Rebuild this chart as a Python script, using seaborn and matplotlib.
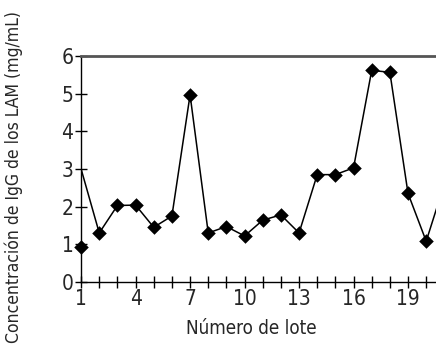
import matplotlib
matplotlib.use("Agg")
import matplotlib.pyplot as plt
import seaborn as sns
import pandas as pd
from matplotlib.ticker import FixedLocator

# Data
lote = [1, 2, 3, 4, 5, 6, 7, 8, 9, 10, 11, 12, 13, 14, 15, 16, 17, 18, 19, 20, 21]
conc = [0.92, 1.30, 2.03, 2.04, 1.45, 1.75, 4.97, 1.30, 1.47, 1.22, 1.64, 1.78, 1.30,
        2.85, 2.85, 3.03, 5.62, 5.57, 2.35, 1.08, 2.6]
linea_inicio = 3.0  # line starts here at lot 1
xticks = [1, 4, 7, 10, 13, 16, 19]
yticks = [0, 1, 2, 3, 4, 5, 6]

sns.set_style("white")
plt.rcParams['font.family'] = ['DejaVu Sans']
plt.rcParams['font.stretch'] = 'condensed'

df_pts = pd.DataFrame({"lote": lote, "conc": conc})
df_line = pd.DataFrame({"lote": lote, "conc": [linea_inicio] + conc[1:]})

fig = plt.figure(figsize=(4.36, 3.55), dpi=100)
ax = fig.add_axes([0.186, 0.206, 0.814, 0.636])

sns.lineplot(data=df_line, x="lote", y="conc", ax=ax, color="black", lw=1.1, zorder=2)
sns.scatterplot(data=df_pts, x="lote", y="conc", ax=ax, marker="D", s=55,
                color="black", edgecolor="black", linewidth=0, zorder=3, clip_on=False)

ax.set_xlim(1, 20.54)
ax.set_ylim(0, 6)
ax.set_xticks(xticks)
ax.xaxis.set_minor_locator(FixedLocator(list(range(1, 21))))
ax.set_yticks(yticks)
ax.tick_params(axis='both', which='both', direction='inout', color='black',
               width=1.0, labelsize=15, pad=1, bottom=True, left=True)
ax.tick_params(axis='x', which='both', length=8)
ax.tick_params(axis='y', which='major', length=9)

for s in ['left', 'bottom']:
    ax.spines[s].set_color('black')
    ax.spines[s].set_linewidth(1.0)
ax.spines['right'].set_visible(False)
ax.spines['top'].set_color('#555555')
ax.spines['top'].set_linewidth(2.0)

ax.set_xlabel("Número de lote", fontsize=13.5)
ax.xaxis.set_label_coords(0.48, -0.165)
ax.set_ylabel("Concentración de IgG de los LAM (mg/mL)", fontsize=12.6)
ax.yaxis.set_label_coords(-0.165, 0.465)

fig.savefig("out.png", dpi=100)
